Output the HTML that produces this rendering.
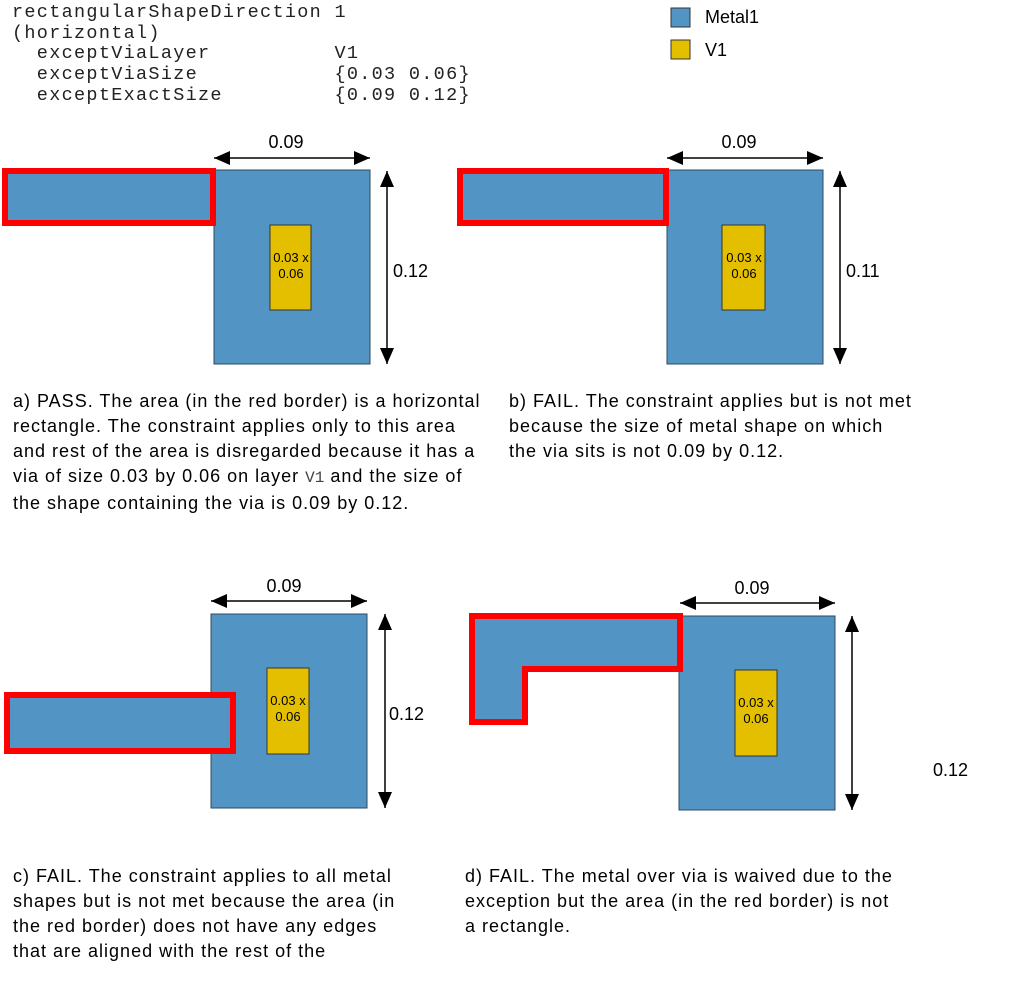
<!DOCTYPE html>
<html><head><style>
body{margin:0;width:1013px;height:986px;background:#fff;position:relative;overflow:hidden;font-family:"Liberation Sans",sans-serif;color:#000}
.m{position:absolute;font-family:"Liberation Mono",monospace;font-size:18.5px;letter-spacing:1.3px;line-height:20.7px;white-space:pre;color:#222}
.t{position:absolute;font-size:18px;letter-spacing:1px;line-height:25px;white-space:nowrap}
svg{position:absolute;left:0;top:0}
</style></head><body>
<svg width="1013" height="986" font-family="Liberation Sans, sans-serif">
<defs><marker id="a" viewBox="0 0 10 10" refX="10" refY="5" markerWidth="16" markerHeight="14" markerUnits="userSpaceOnUse" orient="auto-start-reverse" preserveAspectRatio="none"><path d="M0,0L10,5L0,10z"/></marker></defs>
<g fill="#5295c4" stroke="#2d4a5e" stroke-width="1">
<rect x="214" y="170" width="156" height="194"/>
<rect x="667" y="170" width="156" height="194"/>
<rect x="211" y="614" width="156" height="194"/>
<rect x="679" y="616" width="156" height="194"/>
</g>
<g fill="#5295c4" stroke="#ff0000" stroke-width="6">
<rect x="5" y="171" width="208" height="52"/>
<rect x="460" y="171" width="206" height="52"/>
<rect x="7" y="695" width="226" height="56"/>
<path d="M472,616H680V669H525V722H472Z"/>
</g>
<g fill="#e3bf00" stroke="#333" stroke-width="1">
<rect x="270" y="225" width="41" height="85"/>
<rect x="722" y="225" width="43" height="85"/>
<rect x="267" y="668" width="42" height="86"/>
<rect x="735" y="670" width="42" height="86"/>
</g>
<g font-size="13" text-anchor="middle">
<text x="291" y="262">0.03 x</text><text x="291" y="278">0.06</text>
<text x="744" y="262">0.03 x</text><text x="744" y="278">0.06</text>
<text x="288" y="705">0.03 x</text><text x="288" y="721">0.06</text>
<text x="756" y="707">0.03 x</text><text x="756" y="723">0.06</text>
</g>
<g stroke="#000" stroke-width="1.5" marker-start="url(#a)" marker-end="url(#a)">
<line x1="214" y1="158" x2="370" y2="158"/>
<line x1="387" y1="171" x2="387" y2="364"/>
<line x1="667" y1="158" x2="823" y2="158"/>
<line x1="840" y1="171" x2="840" y2="364"/>
<line x1="211" y1="601" x2="367" y2="601"/>
<line x1="385" y1="614" x2="385" y2="808"/>
<line x1="680" y1="603" x2="835" y2="603"/>
<line x1="852" y1="616" x2="852" y2="810"/>
</g>
<g font-size="18">
<text x="286" y="148" text-anchor="middle">0.09</text>
<text x="393" y="277">0.12</text>
<text x="739" y="148" text-anchor="middle">0.09</text>
<text x="846" y="277">0.11</text>
<text x="284" y="592" text-anchor="middle">0.09</text>
<text x="389" y="720">0.12</text>
<text x="752" y="594" text-anchor="middle">0.09</text>
<text x="933" y="776">0.12</text>
<text x="705" y="23">Metal1</text>
<text x="705" y="56">V1</text>
</g>
<rect x="671" y="8" width="19" height="19" fill="#5295c4" stroke="#333"/>
<rect x="671" y="40" width="19" height="19" fill="#e3bf00" stroke="#333"/>
</svg>
<div class="m" style="left:12px;top:3px">rectangularShapeDirection 1
(horizontal)
  exceptViaLayer          V1
  exceptViaSize           {0.03 0.06}
  exceptExactSize         {0.09 0.12}</div>
<div class="t" style="left:13px;top:389px">a) PASS. The area (in the red border) is a horizontal<br>rectangle. The constraint applies only to this area<br>and rest of the area is disregarded because it has a<br>via of size 0.03 by 0.06 on layer <span style="font-family:'Liberation Mono',monospace;font-size:16px;letter-spacing:0;color:#444">V1</span> and the size of<br>the shape containing the via is 0.09 by 0.12.</div>
<div class="t" style="left:509px;top:389px">b) FAIL. The constraint applies but is not met<br>because the size of metal shape on which<br>the via sits is not 0.09 by 0.12.</div>
<div class="t" style="left:13px;top:864px">c) FAIL. The constraint applies to all metal<br>shapes but is not met because the area (in<br>the red border) does not have any edges<br>that are aligned with the rest of the</div>
<div class="t" style="left:465px;top:864px">d) FAIL. The metal over via is waived due to the<br>exception but the area (in the red border) is not<br>a rectangle.</div>
</body></html>
